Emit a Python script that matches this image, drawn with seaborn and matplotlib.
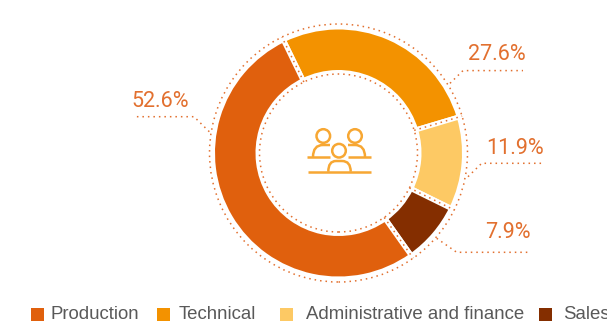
import numpy as np
import matplotlib
matplotlib.use("Agg")
import matplotlib.pyplot as plt
import seaborn as sns
from matplotlib.patches import Circle, PathPatch, Rectangle
from matplotlib.path import Path

# --- Data (clockwise from the Technical slice) ---
categories = ["Technical", "Administrative and finance", "Sales", "Production"]
shares = [27.6, 11.9, 7.9, 52.6]
colors = ["#F39200", "#FDC964", "#842E00", "#E0600D"]

legend_order = ["Production", "Technical", "Administrative and finance", "Sales"]
legend_swatch_x = [30.5, 157, 280, 539]
legend_text_x = [51, 179, 306, 563]

# --- Layout, in image pixels ---
W, H = 607, 322
CX, CY = 338.5, 153
R_OUT, R_IN = 126, 80.5
R_DOT_OUT, R_DOT_IN = 129, 79
START_CLOCK = -26
ORANGE = "#E2702F"
ICON = "#F7A733"

label_text = ["27.6%", "11.9%", "7.9%", "52.6%"]
label_pos = [(497, 54), (515, 148), (508, 233), (160, 101)]
leaders = [
    [(450, 83.3), (463, 70.6), (523, 70.6)],
    [(468, 176.7), (481.7, 163.3), (541.7, 163.3)],
    [(436.7, 238.3), (456.7, 252.3), (528, 252.3)],
    [(209.3, 131.7), (194, 116.7), (133.3, 116.7)],
]


def fy(y):
    """Image y (down) to axes y (up)."""
    return H - y


sns.set_theme(style="white")
plt.rcParams['font.family'] = ['Liberation Sans', 'DejaVu Sans']

fig = plt.figure(figsize=(W / 100, H / 100), dpi=100)
ax = fig.add_axes([0, 0, 1, 1])

ax.pie(
    shares, colors=colors, counterclock=False, startangle=90 - START_CLOCK,
    radius=R_OUT, center=(CX, fy(CY)),
    wedgeprops=dict(width=R_OUT - R_IN, edgecolor="white", linewidth=3.6),
)
ax.set_xlim(0, W)
ax.set_ylim(0, H)
ax.set_aspect("equal")
ax.axis("off")

dot_style = dict(color=ORANGE, lw=1.1, ls=(0, (1, 2.6)))

# dotted rings around the donut
for r in (R_DOT_OUT, R_DOT_IN):
    ax.add_patch(Circle((CX, fy(CY)), r, fill=False, ec=ORANGE, lw=1.1, ls=(0, (1, 2.6))))

# dotted lines running through the gaps between slices
edges = START_CLOCK + np.cumsum(shares) * 3.6
for e in edges:
    a = np.deg2rad(e)
    ax.plot([CX + R_DOT_IN * np.sin(a), CX + R_DOT_OUT * np.sin(a)],
            [fy(CY) + R_DOT_IN * np.cos(a), fy(CY) + R_DOT_OUT * np.cos(a)], **dot_style)

# leader lines and percentages
for pts in leaders:
    ax.plot([p[0] for p in pts], [fy(p[1]) for p in pts], **dot_style)
for txt, (x, y) in zip(label_text, label_pos):
    ax.text(x, fy(y), txt, ha="center", va="center", color=ORANGE, fontsize=15.5, family="Roboto")

# people icon
for cx, cy in [(323.3, 136), (355, 136), (339, 150.7)]:
    ax.add_patch(Circle((cx, fy(cy)), 6.8, fill=False, ec=ICON, lw=1.8))
for x0, x1, y in [(306.7, 330, 157), (348, 370.7, 157), (307.7, 370.7, 171.7)]:
    ax.plot([x0, x1], [fy(y), fy(y)], color=ICON, lw=1.8, solid_capstyle="butt")

C3, L2, M = Path.CURVE3, Path.LINETO, Path.MOVETO
bodies = [
    ([(313, 157), (313, 145), (323, 145), (330, 145)], [M, C3, C3, L2]),
    ([(365, 157), (365, 145), (355, 145), (348, 145)], [M, C3, C3, L2]),
    ([(328.3, 171.7), (328.3, 161), (336, 161), (342, 161), (350.7, 161), (350.7, 171.7)],
     [M, C3, C3, L2, C3, C3]),
]
for verts, codes in bodies:
    path = Path([(x, fy(y)) for x, y in verts], codes)
    ax.add_patch(PathPatch(path, fill=False, ec=ICON, lw=1.8))

# legend
for name, sx, tx in zip(legend_order, legend_swatch_x, legend_text_x):
    col = colors[categories.index(name)]
    ax.add_patch(Rectangle((sx, fy(321)), 13, 13, fc=col, ec="none"))
    ax.text(tx, fy(314.5), name, ha="left", va="center", color="#595959", fontsize=13.4, clip_on=False)

fig.savefig("out.png", dpi=100, facecolor="white")
